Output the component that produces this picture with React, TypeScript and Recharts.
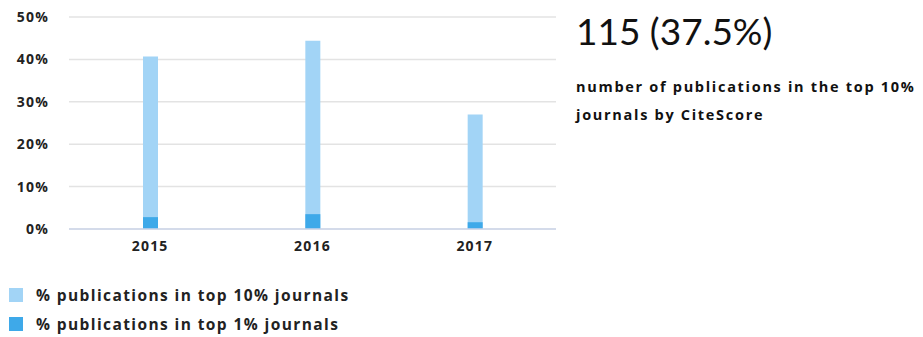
import { BarChart, Bar, XAxis, YAxis, CartesianGrid } from 'recharts';

const years = ['2015', '2016', '2017'];
const top10 = [40.7, 44.4, 27.0];
const top1 = [2.8, 3.5, 1.6];
const yTicks = [0, 10, 20, 30, 40, 50];

const data = years.map((year, i) => ({ year, top10: top10[i], top1: top1[i] }));

const font = '"Open Sans", sans-serif';
const light = '#a2d4f6';
const dark = '#3ea9e9';
const tickStyle = { fill: '#222', fontSize: 14, fontWeight: 700, fontFamily: font, letterSpacing: 1.2 };

export default function App() {
  return (
    <div style={{ position: 'absolute', left: 0, top: 0, width: 923, height: 337, background: '#fff', fontFamily: font }}>
      <BarChart
        width={570}
        height={260}
        data={data}
        barGap={-15}
        margin={{ top: 17, right: 14, left: 0, bottom: 0 }}
      >
        <CartesianGrid vertical={false} stroke="#e3e3e3" strokeWidth={1.5} />
        <XAxis
          dataKey="year"
          height={31}
          tickLine={false}
          tickMargin={6}
          axisLine={{ stroke: '#ccd6ea', strokeWidth: 1.5 }}
          tick={tickStyle}
        />
        <YAxis
          width={69}
          domain={[0, 50]}
          ticks={yTicks}
          tickFormatter={(v) => `${v}%`}
          tickLine={false}
          axisLine={false}
          tickMargin={14}
          tick={tickStyle}
        />
        <Bar dataKey="top10" fill={light} barSize={15} isAnimationActive={false} />
        <Bar dataKey="top1" fill={dark} barSize={15} isAnimationActive={false} />
      </BarChart>

      <div style={{ position: 'absolute', left: 9, top: 280, fontSize: 15.5, fontWeight: 700, color: '#222', letterSpacing: 1.4 }}>
        <div style={{ display: 'flex', alignItems: 'center', height: 29 }}>
          <span style={{ width: 14, height: 14, background: light, marginRight: 13 }} />
          % publications in top 10% journals
        </div>
        <div style={{ display: 'flex', alignItems: 'center', height: 29 }}>
          <span style={{ width: 14, height: 14, background: dark, marginRight: 13 }} />
          % publications in top 1% journals
        </div>
      </div>

      <div style={{ position: 'absolute', left: 576, top: 8, color: '#111' }}>
        <div style={{ fontSize: 37, lineHeight: '46px', fontFamily: 'Lato, sans-serif' }}>115 (37.5%)</div>
        <div style={{ fontSize: 14.5, fontWeight: 700, lineHeight: '28px', marginTop: 19, letterSpacing: 1.7 }}>
          number of publications in the top 10%
        </div>
        <div style={{ fontSize: 14.5, fontWeight: 700, lineHeight: '28px', letterSpacing: 1.7 }}>journals by CiteScore</div>
      </div>
    </div>
  );
}
